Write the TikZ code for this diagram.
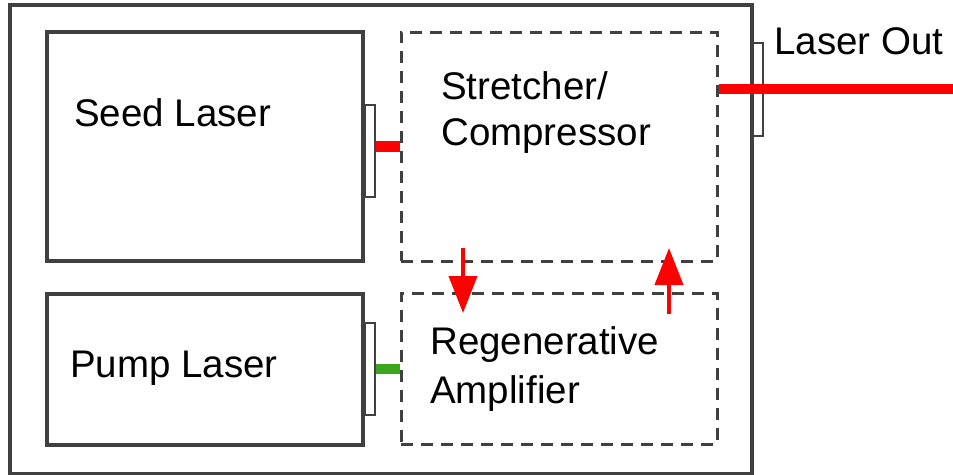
\documentclass[tikz,border=0pt]{standalone}
\usepackage{fontspec}
\setmainfont{Liberation Sans}
\usetikzlibrary{arrows.meta}
\definecolor{edge}{RGB}{64,64,64}
\definecolor{beamred}{RGB}{255,0,0}
\definecolor{pumpgreen}{RGB}{60,165,30}
\begin{document}
\begin{tikzpicture}[x=1pt, y=-1pt,
  unit/.style={draw=edge, line width=3.2pt, inner sep=0pt},
  stage/.style={draw=edge, line width=3pt, dash pattern=on 12pt off 8pt, inner sep=0pt},
  window/.style={draw=edge, line width=2.2pt, fill=white, inner sep=0pt, minimum width=10pt, minimum height=92pt},
  label/.style={inner sep=0pt, font=\fontsize{38.5}{39}\selectfont, align=left},
  beam/.style={line width=10.5pt},
  pulse/.style={beamred, line width=4pt, -{Triangle[width=28pt, length=37pt]}}]
\useasboundingbox (0,0) rectangle (953,474);
% housing and blocks
\node[unit, minimum width=742pt, minimum height=469pt] (box) at (381,239.5) {};
\node[unit, minimum width=316pt, minimum height=229pt] (seed) at (205,146.5) {};
\node[unit, minimum width=316pt, minimum height=151pt] (pump) at (205,369.5) {};
\node[stage, minimum width=316pt, minimum height=229pt] (stretch) at (559,146.5) {};
\node[stage, minimum width=316pt, minimum height=151pt] (regen) at (559,368.5) {};
% output windows
\node[window] (seedwin) at (370,151) {};
\node[window] (pumpwin) at (370,369) {};
\node[window, minimum height=93pt] (outwin) at (758,89.5) {};
% labels
\node[label, anchor=base west] (seedtxt) at (74,126) {Seed Laser};
\node[label, anchor=base west] (pumptxt) at (70,377) {Pump Laser};
\node[label, anchor=north west] (stretchtxt) at (441,71) {Stretcher/\\[7pt]Compressor};
\node[label, anchor=north west] (regentxt) at (430,326) {Regenerative\\[10pt]Amplifier};
\node[label, anchor=base west] (outtxt) at (774,54) {Laser Out};
% beams
\coordinate (out) at (953,89);
\draw[beam, beamred] (seedwin.east |- stretch.west) -- (stretch.west);
\draw[beam, pumpgreen] (pumpwin.east) -- (regen.west |- pumpwin.east);
\draw[beam, beamred] (stretch.east |- out) -- (out);
% pulses between stages
\coordinate (dna) at (463,248);
\coordinate (dnb) at (463,313);
\coordinate (upa) at (669,314);
\coordinate (upb) at (669,248);
\draw[pulse] (dna) -- (dnb);
\draw[pulse] (upa) -- (upb);
\end{tikzpicture}
\end{document}
